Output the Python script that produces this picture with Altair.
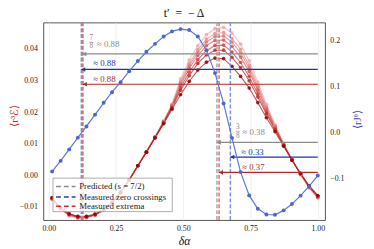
import altair as alt
import pandas as pd

FONT = "Liberation Serif"

delta_alpha = [0.0125, 0.044, 0.076, 0.108, 0.140, 0.172, 0.204, 0.235, 0.267, 0.299,
               0.331, 0.363, 0.395, 0.427, 0.458, 0.490, 0.522, 0.554, 0.586, 0.618,
               0.650, 0.681, 0.713, 0.745, 0.777, 0.809, 0.841, 0.873, 0.904, 0.936,
               0.968, 1.000]

rJ_theta = [-0.0854, -0.0623, -0.0372, -0.0115, 0.0130, 0.0387, 0.0646, 0.0877, 0.1098, 0.1337,
            0.1559, 0.1762, 0.1935, 0.2096, 0.2207, 0.2257, 0.2236, 0.2096, 0.1797, 0.1295,
            0.0632, -0.0121, -0.0868, -0.1377, -0.1669, -0.1795, -0.1801, -0.1705, -0.1565, -0.1383,
            -0.1174, -0.0944]

red_s0 = [-0.0076, -0.0108, -0.0128, -0.0136, -0.0135, -0.0127, -0.0111, -0.0088, -0.0055, -0.0015,
          0.0030, 0.0075, 0.0122, 0.0172, 0.0225, 0.0305, 0.0365, 0.0410, 0.0445, 0.0464,
          0.0468, 0.0450, 0.0415, 0.0362, 0.0295, 0.0225, 0.0160, 0.0100, 0.0048, 0.0002,
          -0.0040, -0.0072]
red_s1 = [-0.0075, -0.0107, -0.0127, -0.0135, -0.0134, -0.0126, -0.0110, -0.0088, -0.0055, -0.0015,
          0.0030, 0.0075, 0.0121, 0.0171, 0.0222, 0.0297, 0.0354, 0.0398, 0.0431, 0.0449,
          0.0452, 0.0433, 0.0399, 0.0348, 0.0285, 0.0218, 0.0156, 0.0099, 0.0048, 0.0003,
          -0.0039, -0.0071]
red_s2 = [-0.0075, -0.0106, -0.0126, -0.0134, -0.0133, -0.0126, -0.0110, -0.0087, -0.0055, -0.0015,
          0.0030, 0.0074, 0.0121, 0.0170, 0.0221, 0.0292, 0.0347, 0.0389, 0.0422, 0.0439,
          0.0441, 0.0422, 0.0387, 0.0339, 0.0277, 0.0213, 0.0154, 0.0098, 0.0048, 0.0003,
          -0.0038, -0.0070]
red_s3 = [-0.0074, -0.0105, -0.0125, -0.0133, -0.0133, -0.0125, -0.0110, -0.0087, -0.0055, -0.0015,
          0.0030, 0.0074, 0.0120, 0.0168, 0.0219, 0.0285, 0.0338, 0.0379, 0.0410, 0.0427,
          0.0428, 0.0408, 0.0374, 0.0328, 0.0269, 0.0208, 0.0151, 0.0097, 0.0048, 0.0004,
          -0.0037, -0.0069]
red_s4 = [-0.0073, -0.0104, -0.0124, -0.0132, -0.0132, -0.0125, -0.0109, -0.0087, -0.0054, -0.0015,
          0.0030, 0.0074, 0.0120, 0.0167, 0.0216, 0.0277, 0.0326, 0.0366, 0.0395, 0.0411,
          0.0412, 0.0390, 0.0357, 0.0313, 0.0258, 0.0200, 0.0147, 0.0095, 0.0048, 0.0004,
          -0.0036, -0.0067]
red_s5 = [-0.0072, -0.0103, -0.0123, -0.0131, -0.0131, -0.0124, -0.0109, -0.0086, -0.0054, -0.0015,
          0.0030, 0.0073, 0.0119, 0.0165, 0.0213, 0.0269, 0.0315, 0.0354, 0.0381, 0.0396,
          0.0396, 0.0373, 0.0341, 0.0299, 0.0248, 0.0194, 0.0144, 0.0094, 0.0048, 0.0005,
          -0.0035, -0.0066]
red_s6 = [-0.0071, -0.0102, -0.0122, -0.0130, -0.0130, -0.0123, -0.0108, -0.0086, -0.0054, -0.0015,
          0.0030, 0.0073, 0.0118, 0.0163, 0.0209, 0.0255, 0.0297, 0.0333, 0.0358, 0.0371,
          0.0369, 0.0345, 0.0313, 0.0276, 0.0230, 0.0182, 0.0138, 0.0092, 0.0048, 0.0006,
          -0.0033, -0.0064]
# drawn lightest first, darkest last
red_series = [red_s0, red_s1, red_s2, red_s3, red_s4, red_s5, red_s6]
red_line_colors = ["#f3a8a8", "#ec9090", "#e27676", "#d85c5c", "#cc4242", "#bb2a2a", "#b02222"]
red_point_colors = ["#f3a8a8", "#ec9090", "#e27676", "#d85c5c", "#cc4242", "#bb2a2a", "#8b0000"]

# vertical dashed markers
vline_x = [0.125, 0.625, 0.121, 0.675, 0.127, 0.633]
vline_colors = ["#a8a8a8", "#a8a8a8", "#7f8fd8", "#7f8fd8", "#e07070", "#e07070"]

# legend (drawn inside the plot)
legend_labels = ["Predicted (s = 7/2)", "Measured zero crossings", "Measured extrema"]
legend_colors = ["#8a8a8a", "#2a3cb5", "#d03030"]
legend_row_y = [-0.00354, -0.00688, -0.00979]
legend_box = {"x": 0.0156, "x2": 0.459, "y": -0.00091, "y2": -0.01152}
legend_sample_x = [0.027, 0.027, 0.027]
legend_sample_x2 = [0.0995, 0.0995, 0.0995]
legend_text_x = [0.113, 0.113, 0.113]

arrow_y = [0.0384, 0.0335, 0.0288, 0.0104, 0.00576, 0.00091]
arrow_tip = [0.125, 0.121, 0.127, 0.625, 0.675, 0.633]
arrow_end = [1.0, 1.0, 1.0, 1.0, 1.0, 1.0]
arrow_colors = ["#8c8c8c", "#1f33a8", "#b22a2a", "#8c8c8c", "#1f33a8", "#b22a2a"]

approx_text = ["≈ 0.88", "≈ 0.88", "≈ 0.88", "≈ 0.38", "≈ 0.33", "≈ 0.37"]
approx_x = [0.179, 0.165, 0.165, 0.720, 0.7155, 0.719]
approx_y = [0.0416, 0.0355, 0.0306, 0.01364, 0.00736, 0.0025]
approx_colors = ["#8c8c8c", "#2437b0", "#b52a2a", "#8c8c8c", "#2437b0", "#b52a2a"]

frac_digits = ["7", "8", "3", "8"]
frac_x = [0.158, 0.158, 0.703, 0.703]
frac_y = [0.0433, 0.0408, 0.01525, 0.01255]
frac_bar_x = [0.150, 0.695]
frac_bar_x2 = [0.166, 0.711]
frac_bar_y = [0.0421, 0.0139]

X_DOMAIN = [-0.0207, 1.0265]
LEFT_DOMAIN = [-0.01415, 0.0484]
RIGHT_DOMAIN = [-0.1914, 0.2404]

# ---------- data frames ----------
red_rows = []
for i, (vals, lc, pc) in enumerate(zip(red_series, red_line_colors, red_point_colors)):
    for x, y in zip(delta_alpha, vals):
        red_rows.append({"x": x, "y": y, "series": f"s{i}", "lcolor": lc, "pcolor": pc})
red_df = pd.DataFrame(red_rows)

blue_df = pd.DataFrame({"x": delta_alpha, "y": rJ_theta})
vline_df = pd.DataFrame({"x": vline_x, "color": vline_colors})
arrow_df = pd.DataFrame({"tip": arrow_tip, "end": arrow_end, "y": arrow_y, "color": arrow_colors})
approx_df = pd.DataFrame({"x": approx_x, "y": approx_y, "text": approx_text, "color": approx_colors})
frac_df = pd.DataFrame({"x": frac_x, "y": frac_y, "text": frac_digits})
frac_bar_df = pd.DataFrame({"x": frac_bar_x, "x2": frac_bar_x2, "y": frac_bar_y})
legend_box_df = pd.DataFrame([legend_box])
legend_df = pd.DataFrame({"x": legend_sample_x, "x2": legend_sample_x2, "tx": legend_text_x,
                          "y": legend_row_y, "label": legend_labels, "color": legend_colors})

x_axis = alt.Axis(title="δα", titleFont=FONT, titleFontSize=12, titleFontStyle="italic",
                  titleFontWeight="normal", titleColor="#111", titleY=21, titleBaseline="middle",
                  values=[0, 0.25, 0.5, 0.75, 1.0], format=".2f", labelFont=FONT, labelFontSize=8,
                  labelColor="#222", ticks=False, labelPadding=5, domain=False,
                  grid=True, gridColor="#ececec", gridWidth=0.8)
x_scale = alt.Scale(domain=X_DOMAIN, nice=False, zero=False)

left_axis = alt.Axis(title="⟨r³ℰ⟩", titleFont=FONT, titleFontSize=11, titleFontWeight="normal",
                     titleColor="#c03030", titleAngle=270, titleX=-29, titleY=95,
                     titleAlign="center", titleBaseline="middle",
                     values=[-0.01, 0.0, 0.01, 0.02, 0.03, 0.04], format=".2f",
                     labelFont=FONT, labelFontSize=8, labelColor="#222", ticks=False,
                     labelPadding=6, domain=False, grid=False)
left_scale = alt.Scale(domain=LEFT_DOMAIN, nice=False, zero=False)

right_axis = alt.Axis(orient="right", title="⟨rJᶿ⟩", titleFont=FONT, titleFontSize=11,
                      titleFontWeight="normal", titleColor="#3344bb", titleAngle=270,
                      titleX=33, titleY=99, titleAlign="center", titleBaseline="middle",
                      values=[-0.1, 0.0, 0.1, 0.2], format=".1f", labelFont=FONT, labelFontSize=8,
                      labelColor="#222", ticks=False, labelPadding=5, domain=False, grid=False)
right_scale = alt.Scale(domain=RIGHT_DOMAIN, nice=False, zero=False)


def X(field="x"):
    return alt.X(f"{field}:Q", scale=x_scale, axis=x_axis)


def YL(field="y"):
    return alt.Y(f"{field}:Q", scale=left_scale, axis=left_axis)


red_lines = alt.Chart(red_df).mark_line(strokeWidth=1.1, opacity=0.75).encode(
    x=X(), y=YL(), color=alt.Color("lcolor:N", scale=None), detail="series:N")
red_points = alt.Chart(red_df).mark_point(filled=True, size=14, opacity=0.85).encode(
    x=X(), y=YL(), color=alt.Color("pcolor:N", scale=None))

vrules = alt.Chart(vline_df).mark_rule(strokeDash=[4, 2], strokeWidth=1.5).encode(
    x=X(), color=alt.Color("color:N", scale=None))

legend_rect = alt.Chart(legend_box_df).mark_rect(fill="white", fillOpacity=0.8, stroke="#999",
                                                 strokeWidth=0.8).encode(
    x=X(), x2=alt.X2("x2"), y=YL(), y2=alt.Y2("y2"))

legend_samples = alt.Chart(legend_df).mark_rule(strokeDash=[5, 3], strokeWidth=1.6).encode(
    x=X(), x2=alt.X2("x2"), y=YL(), color=alt.Color("color:N", scale=None))
legend_texts = alt.Chart(legend_df).mark_text(align="left", baseline="middle", font=FONT,
                                              fontSize=9, color="#222").encode(
    x=X("tx"), y=YL(), text="label:N")

arrows = alt.Chart(arrow_df).mark_rule(strokeWidth=1.2).encode(
    x=X("tip"), x2=alt.X2("end"), y=YL(), color=alt.Color("color:N", scale=None))
arrow_heads = alt.Chart(arrow_df).mark_point(shape="triangle-left", filled=True, size=22,
                                             opacity=1, xOffset=2).encode(
    x=X("tip"), y=YL(), color=alt.Color("color:N", scale=None))

approx_labels = alt.Chart(approx_df).mark_text(align="left", baseline="middle", font=FONT,
                                               fontSize=9).encode(
    x=X(), y=YL(), text="text:N", color=alt.Color("color:N", scale=None))
frac_labels = alt.Chart(frac_df).mark_text(align="center", baseline="middle", font=FONT,
                                           fontSize=7.5, color="#8c8c8c").encode(
    x=X(), y=YL(), text="text:N")
frac_bars = alt.Chart(frac_bar_df).mark_rule(strokeWidth=0.6, color="#8c8c8c").encode(
    x=X(), x2=alt.X2("x2"), y=YL())

left_group = alt.layer(red_lines, red_points, vrules, legend_rect, arrows, arrow_heads,
                       frac_bars, frac_labels, approx_labels, legend_samples, legend_texts)

blue_line = alt.Chart(blue_df).mark_line(strokeWidth=1.2, color="#5a78d8").encode(
    x=X(), y=alt.Y("y:Q", scale=right_scale, axis=right_axis))
blue_points = alt.Chart(blue_df).mark_point(filled=True, size=16, color="#4a68cc", opacity=1).encode(
    x=X(), y=alt.Y("y:Q", scale=right_scale, axis=right_axis))
right_group = alt.layer(blue_line, blue_points)

chart = alt.layer(left_group, right_group).resolve_scale(y="independent").properties(
    width=288, height=202,
    title=alt.TitleParams("t′\u2002=\u2002−\u2009Δ", font=FONT, fontSize=12, fontWeight="normal",
                          color="#111", offset=2, anchor="middle"),
    autosize=alt.AutoSizeParams(type="none"),
    padding={"left": 36, "top": 12, "right": 42, "bottom": 27},
).configure_view(stroke="#555", strokeWidth=1)

chart.save("out.html", embed_options={"renderer": "svg", "actions": False})
